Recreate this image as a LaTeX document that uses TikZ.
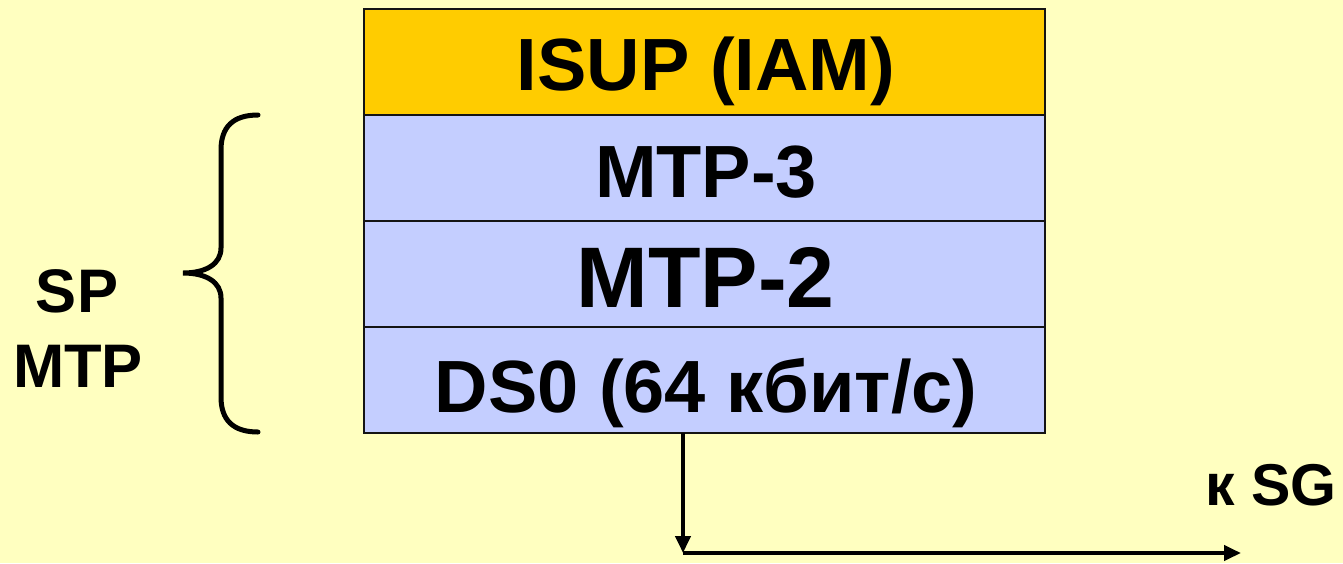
\documentclass[tikz,border=0pt]{standalone}
\usepackage{fontspec}
\setmainfont{Liberation Sans}
\usetikzlibrary{arrows.meta}
\definecolor{bgyellow}{RGB}{255,255,192}
\definecolor{isupfill}{RGB}{255,204,0}
\definecolor{mtpfill}{RGB}{196,206,255}
\definecolor{edge}{RGB}{20,20,20}
\begin{document}
\begin{tikzpicture}[x=1pt,y=-1pt,
  layer/.style={draw=edge,line width=1.8pt,minimum width=681pt,minimum height=106pt,inner sep=0pt,outer sep=0pt},
  lbl/.style={anchor=base,inner sep=0pt,font=\bfseries\fontsize{74}{80}\selectfont},
  biglbl/.style={anchor=base,inner sep=0pt,font=\bfseries\fontsize{86}{92}\selectfont},
  sidelbl/.style={anchor=base,inner sep=0pt,font=\bfseries\fontsize{61.5}{66}\selectfont},
  sglbl/.style={anchor=base,inner sep=0pt,font=\bfseries\fontsize{59}{62}\selectfont},
  conn/.style={line width=4pt,-{Triangle[length=17pt,width=15pt]}}
]
\fill[bgyellow] (0,0) rectangle (1343,563);
\useasboundingbox (0,0) rectangle (1343,563);
% layers
\node[layer,fill=isupfill] (isup) at (704.5,62) {};
\node[layer,fill=mtpfill] (mtp3) at (704.5,168) {};
\node[layer,fill=mtpfill] (mtp2) at (704.5,274) {};
\node[layer,fill=mtpfill] (ds0) at (704.5,380) {};
% labels
\node[lbl] (isupt) at (706,90) {ISUP (IAM)};
\node[lbl] (mtp3t) at (706,197) {MTP-3};
\node[biglbl] (mtp2t) at (705.5,307) {MTP-2};
\node[lbl] (ds0t) at (706,412) {DS0 (64 кбит/с)};
\node[sidelbl] (sp) at (77,312) {SP};
\node[sidelbl] (mtp) at (78,387) {MTP};
\node[sglbl] (ksg) at (1271,505) {к SG};
% brace
\draw[line width=5pt,line cap=round] (258,115) .. controls (233,115) and (221,127) .. (221,150)
  -- (221,248) .. controls (221,264) and (206,273) .. (183,273)
  .. controls (206,273) and (221,282) .. (221,298)
  -- (221,397) .. controls (221,420) and (233,432) .. (258,432);
% connectors
\coordinate (corner) at (683,553);
\coordinate (sg) at (1241,553);
\draw[conn] (ds0.south -| corner) -- (corner);
\draw[conn] (corner) -- (sg);
\end{tikzpicture}
\end{document}
